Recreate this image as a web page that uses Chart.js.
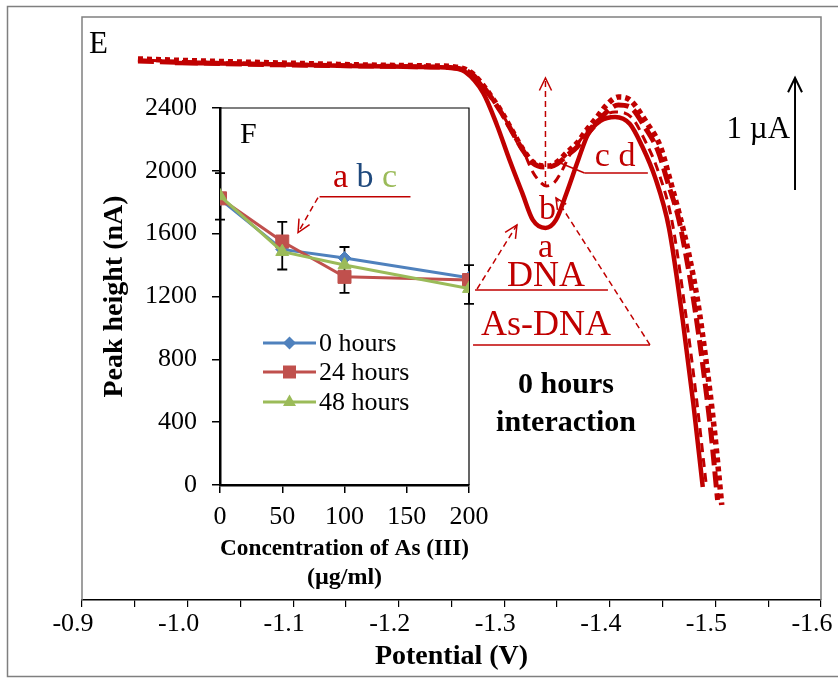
<!DOCTYPE html>
<html>
<head>
<meta charset="utf-8">
<script src="https://cdn.jsdelivr.net/npm/chart.js@4/dist/chart.umd.min.js"></script>
<style>
html, body { margin: 0; padding: 0; background: #fff; }
#wrap { position: relative; width: 838px; height: 679px; }
#main { position: absolute; left: 0; top: 0; }
#inset { position: absolute; left: 95px; top: 95px; }
</style>
</head>
<body>
<div id="wrap">
  <canvas id="main" width="838" height="679"></canvas>
  <canvas id="inset" width="400" height="510"></canvas>
</div>
<script>
// ---- E: voltammograms (potential V, current in uA, arbitrary offset) ----
// a: DNA (solid)
const potA = [-0.988, -1.069, -1.154, -1.220, -1.249, -1.263, -1.280, -1.293, -1.305, -1.317, -1.327, -1.339, -1.349,
  -1.359, -1.370, -1.379, -1.391, -1.405, -1.419, -1.430, -1.443, -1.456, -1.469, -1.479, -1.488];
const curA = [4.790, 4.781, 4.764, 4.755, 4.746, 4.710, 4.523, 4.237, 3.925, 3.631, 3.390, 3.318, 3.390,
  3.631, 3.925, 4.148, 4.273, 4.309, 4.246, 4.059, 3.765, 3.318, 2.498, 1.757, 1.008];
// b: As-DNA
const potB = [-0.953, -1.012, -1.088, -1.163, -1.230, -1.253, -1.268, -1.279, -1.288, -1.298, -1.307, -1.318, -1.327,
  -1.334, -1.340, -1.347, -1.354, -1.362, -1.372, -1.381, -1.391, -1.405, -1.421, -1.433, -1.446, -1.459, -1.472, -1.482, -1.491];
const curB = [4.817, 4.799, 4.781, 4.764, 4.755, 4.746, 4.701, 4.594, 4.478, 4.335, 4.184, 4.005, 3.818,
  3.729, 3.693, 3.720, 3.818, 3.970, 4.103, 4.211, 4.300, 4.353, 4.300, 4.103, 3.818, 3.372, 2.542, 1.802, 1.053];
// c: As-DNA
const potC = [-0.953, -1.012, -1.088, -1.163, -1.230, -1.253, -1.268, -1.279, -1.288, -1.298, -1.307, -1.318, -1.327,
  -1.337, -1.343, -1.350, -1.359, -1.369, -1.378, -1.388, -1.397, -1.408, -1.419, -1.433, -1.446, -1.455, -1.465,
  -1.472, -1.480, -1.488, -1.496, -1.502];
const curC = [4.808, 4.790, 4.773, 4.764, 4.755, 4.746, 4.701, 4.594, 4.478, 4.335, 4.184, 4.005, 3.898,
  3.863, 3.863, 3.889, 3.961, 4.041, 4.148, 4.255, 4.353, 4.416, 4.398, 4.219, 3.996, 3.720, 3.408,
  3.078, 2.632, 2.096, 1.472, 0.892];
// d: As-DNA
const potD = [-0.953, -1.012, -1.088, -1.163, -1.230, -1.253, -1.268, -1.279, -1.288, -1.298, -1.307, -1.318, -1.327,
  -1.337, -1.343, -1.350, -1.359, -1.369, -1.378, -1.388, -1.397, -1.408, -1.419, -1.435, -1.448, -1.457, -1.466,
  -1.474, -1.483, -1.491, -1.499, -1.506];
const curD = [4.826, 4.808, 4.790, 4.773, 4.764, 4.755, 4.710, 4.603, 4.487, 4.344, 4.193, 4.014, 3.907,
  3.872, 3.872, 3.907, 3.988, 4.077, 4.193, 4.309, 4.416, 4.487, 4.460, 4.255, 4.041, 3.747, 3.434,
  3.122, 2.676, 2.141, 1.517, 0.847];
const potTicks = [-0.9, -0.95, -1.0, -1.05, -1.1, -1.15, -1.2, -1.25, -1.3, -1.35, -1.4, -1.45, -1.5, -1.55, -1.6];
const potLabels = ['-0.9', '', '-1.0', '', '-1.1', '', '-1.2', '', '-1.3', '', '-1.4', '', '-1.5', '', '-1.6'];

// ---- F: peak height vs As(III) concentration ----
const conc = [0, 50, 100, 200];
const peak0h = [1820, 1500, 1445, 1320];
const peak24h = [1825, 1550, 1325, 1305];
const peak48h = [1840, 1485, 1400, 1250];
const errHigh = [1985, 1675, 1515, 1400];
const errLow = [1690, 1372, 1223, 1153];
const concTicks = [0, 50, 100, 150, 200];
const peakTicks = [0, 400, 800, 1200, 1600, 2000, 2400];
const seriesNames = ['0 hours', '24 hours', '48 hours'];

const RED = '#C00000';
const SERIF = "'Liberation Serif', 'Times New Roman', serif";

function arrowHead(c, x1, y1, x2, y2, len) {
  const a = Math.atan2(y2 - y1, x2 - x1);
  c.save();
  c.setLineDash([]);
  c.beginPath();
  c.moveTo(x2 - len * Math.cos(a - 0.45), y2 - len * Math.sin(a - 0.45));
  c.lineTo(x2, y2);
  c.lineTo(x2 - len * Math.cos(a + 0.45), y2 - len * Math.sin(a + 0.45));
  c.stroke();
  c.restore();
}

function seg(c, x1, y1, x2, y2, dash, head) {
  c.save();
  c.setLineDash(dash || []);
  c.beginPath();
  c.moveTo(x1, y1);
  c.lineTo(x2, y2);
  c.stroke();
  c.restore();
  if (head) arrowHead(c, x1, y1, x2, y2, head);
}

function text(c, s, x, y, font, color, align) {
  c.save();
  c.font = font;
  c.fillStyle = color;
  c.textAlign = align || 'center';
  c.textBaseline = 'alphabetic';
  c.fillText(s, x, y);
  c.restore();
}

function curve(pot, cur, opts) {
  return Object.assign({
    data: pot.map((p, i) => ({x: p, y: cur[i]})),
    borderColor: RED,
    pointRadius: 0,
    fill: false,
    cubicInterpolationMode: 'monotone'
  }, opts);
}

const mainNotes = {
  id: 'mainNotes',
  beforeDraw(chart) {
    const c = chart.ctx;
    c.save();
    c.fillStyle = '#fff';
    c.fillRect(0, 0, chart.width, chart.height);
    c.strokeStyle = '#7f7f7f';
    c.lineWidth = 1.5;
    c.strokeRect(7.5, 6.5, 900, 670);
    c.restore();
  },
  afterDraw(chart) {
    const {ctx: c, chartArea: a, scales: {x, y}} = chart;
    const X = v => x.getPixelForValue(v), Y = v => y.getPixelForValue(v);
    c.save();
    c.strokeStyle = '#808080';
    c.lineWidth = 1.5;
    c.beginPath();
    c.moveTo(a.left, a.bottom);
    c.lineTo(a.left, a.top);
    c.lineTo(a.right, a.top);
    c.lineTo(a.right, a.bottom);
    c.stroke();

    text(c, 'E', X(-0.9066), Y(4.880), '31px ' + SERIF, '#000', 'left');

    c.strokeStyle = RED;
    c.lineWidth = 1.5;
    text(c, 'a', X(-1.339), Y(3.060), '34px ' + SERIF, RED);
    text(c, 'b', X(-1.341), Y(3.399), '34px ' + SERIF, RED);
    text(c, 'c d', X(-1.405), Y(3.872), '34px ' + SERIF, RED);
    seg(c, X(-1.376), Y(3.809), X(-1.436), Y(3.809));
    seg(c, X(-1.353), Y(3.898), X(-1.376), Y(3.809));

    text(c, 'DNA', X(-1.3395), Y(2.801), '36px ' + SERIF, RED);
    seg(c, X(-1.2723), Y(2.765), X(-1.3982), Y(2.765));
    seg(c, X(-1.2742), Y(2.774), X(-1.312), Y(3.345), [6, 4], 14);

    text(c, 'As-DNA', X(-1.3395), Y(2.364), '36px ' + SERIF, RED);
    seg(c, X(-1.2704), Y(2.275), X(-1.438), Y(2.275));
    seg(c, X(-1.438), Y(2.275), X(-1.349), Y(3.586), [6, 4], 12);
    seg(c, X(-1.339), Y(3.684), X(-1.339), Y(4.657), [6, 4], 14);

    c.strokeStyle = '#000';
    c.lineWidth = 2;
    seg(c, X(-1.5754), Y(3.657), X(-1.5754), Y(4.657), null, 16);
    text(c, '1 \u00b5A', X(-1.5707), Y(4.121), '31px ' + SERIF, '#000', 'right');

    text(c, '0 hours', X(-1.3585), Y(1.847), 'bold 30px ' + SERIF, '#000');
    text(c, 'interaction', X(-1.3585), Y(1.508), 'bold 30px ' + SERIF, '#000');
    c.restore();
  }
};

new Chart(document.getElementById('main'), {
  type: 'line',
  data: {
    datasets: [
      curve(potD, curD, {borderWidth: 5.5, borderDash: [5, 4], order: 4}),
      curve(potC, curC, {borderWidth: 5, borderDash: [16, 6], order: 3}),
      curve(potB, curB, {borderWidth: 3, borderDash: [9, 6], order: 2}),
      curve(potA, curA, {borderWidth: 4.5, order: 1})
    ]
  },
  options: {
    responsive: false,
    animation: false,
    layout: {padding: {left: 82, top: 17, right: 17, bottom: 0}},
    plugins: {legend: {display: false}, tooltip: {enabled: false}},
    scales: {
      x: {
        type: 'linear',
        reverse: true,
        min: -1.6,
        max: -0.9,
        afterBuildTicks: s => { s.ticks = potTicks.map(v => ({value: v})); },
        afterFit: s => { s.height = 79; s.paddingLeft = 0; s.paddingRight = 0; },
        ticks: {
          autoSkip: false,
          maxRotation: 0,
          padding: 2,
          labelOffset: -9,
          color: '#000',
          font: {family: SERIF, size: 26},
          callback: (v, i) => potLabels[i]
        },
        grid: {drawOnChartArea: false, tickLength: 7, color: '#000', lineWidth: 1.2},
        border: {color: '#000', width: 1.5},
        title: {
          display: true,
          text: 'Potential (V)',
          color: '#000',
          font: {family: SERIF, size: 28, weight: 'bold'},
          padding: {top: 0, bottom: 5}
        }
      },
      y: {display: false, min: 0, max: 5.2}
    }
  },
  plugins: [mainNotes]
});

// ---- inset F ----
const insetNotes = {
  id: 'insetNotes',
  beforeDatasetsDraw(chart) {
    const {ctx: c, chartArea: a, scales: {x, y}} = chart;
    c.save();
    c.strokeStyle = '#000';
    c.lineWidth = 1.2;
    c.beginPath();
    c.moveTo(a.left, a.top);
    c.lineTo(a.right, a.top);
    c.lineTo(a.right, a.bottom);
    c.stroke();
    c.lineWidth = 1.8;
    conc.forEach((v, i) => {
      const px = x.getPixelForValue(v);
      const t = y.getPixelForValue(errHigh[i]), b = y.getPixelForValue(errLow[i]);
      c.beginPath();
      c.moveTo(px, t); c.lineTo(px, b);
      c.moveTo(px - 5, t); c.lineTo(px + 5, t);
      c.moveTo(px - 5, b); c.lineTo(px + 5, b);
      c.stroke();
    });
    c.restore();
  },
  afterDraw(chart) {
    const {ctx: c, chartArea: a, scales: {x, y}} = chart;
    const X = v => x.getPixelForValue(v), Y = v => y.getPixelForValue(v);
    text(c, 'F', X(16), Y(2177), '30px ' + SERIF, '#000', 'left');

    // "a b c" label with coloured letters
    c.save();
    c.font = '34px ' + SERIF;
    const parts = [['a ', RED], ['b ', '#1F497D'], ['c', '#9BBB59']];
    const total = parts.reduce((s, p) => s + c.measureText(p[0]).width, 0);
    let px = X(116.5) - total / 2;
    parts.forEach(p => {
      text(c, p[0], px, Y(1900), '34px ' + SERIF, p[1], 'left');
      px += c.measureText(p[0]).width;
    });
    c.strokeStyle = RED;
    c.lineWidth = 1.5;
    seg(c, X(80), Y(1835), X(153), Y(1835));
    seg(c, X(78.7), Y(1830), X(62.7), Y(1607), [6, 4], 14);
    c.restore();

    // legend
    const cols = chart.data.datasets.map(d => d.borderColor);
    const rows = [235, 264, 294];
    c.save();
    rows.forEach((dy, i) => {
      const ly = a.top + dy;
      const x0 = a.left + 43, x1 = a.left + 96, xm = (x0 + x1) / 2;
      c.strokeStyle = cols[i];
      c.fillStyle = cols[i];
      c.lineWidth = 3;
      c.beginPath(); c.moveTo(x0, ly); c.lineTo(x1, ly); c.stroke();
      c.beginPath();
      if (i === 0) {
        c.moveTo(xm, ly - 6.5); c.lineTo(xm + 6.5, ly); c.lineTo(xm, ly + 6.5); c.lineTo(xm - 6.5, ly);
      } else if (i === 1) {
        c.rect(xm - 6.5, ly - 6.5, 13, 13);
      } else {
        c.moveTo(xm, ly - 7.5); c.lineTo(xm + 6.5, ly + 4); c.lineTo(xm - 6.5, ly + 4);
      }
      c.closePath();
      c.fill();
      c.font = '26px ' + SERIF;
      c.fillStyle = '#000';
      c.textAlign = 'left';
      c.textBaseline = 'middle';
      c.fillText(seriesNames[i], a.left + 99, ly + 1);
    });
    c.restore();
  }
};

function series(vals, color, style, r, order) {
  return {
    label: '',
    data: conc.map((v, i) => ({x: v, y: vals[i]})),
    borderColor: color,
    backgroundColor: color,
    borderWidth: 3,
    pointStyle: style,
    pointRadius: r,
    pointBorderWidth: 1,
    pointBorderColor: color,
    tension: 0,
    order: order
  };
}

new Chart(document.getElementById('inset'), {
  type: 'line',
  data: {
    datasets: [
      series(peak0h, '#4F81BD', 'rectRot', 6.5, 3),
      series(peak24h, '#C0504D', 'rect', 9.2, 2),
      series(peak48h, '#9BBB59', 'triangle', 7.5, 1)
    ]
  },
  options: {
    responsive: false,
    animation: false,
    layout: {padding: {left: 0, top: 13, right: 26, bottom: 0}},
    plugins: {legend: {display: false}, tooltip: {enabled: false}},
    scales: {
      x: {
        type: 'linear',
        min: 0,
        max: 200,
        afterBuildTicks: s => { s.ticks = concTicks.map(v => ({value: v})); },
        afterFit: s => { s.height = 120; s.paddingLeft = 0; s.paddingRight = 0; },
        ticks: {maxRotation: 0, autoSkip: false, padding: 9, color: '#000', font: {family: SERIF, size: 26},
          callback: v => String(v)},
        grid: {drawOnChartArea: false, tickLength: 8, color: '#000', lineWidth: 1.5},
        border: {color: '#000', width: 2.5},
        title: {
          display: true,
          text: ['Concentration of As (III)', '(\u00b5g/ml)'],
          color: '#000',
          font: {family: SERIF, size: 24, weight: 'bold', lineHeight: 1.2},
          padding: {top: 0, bottom: 13}
        }
      },
      y: {
        min: 0,
        max: 2400,
        afterBuildTicks: s => { s.ticks = peakTicks.map(v => ({value: v})); },
        afterFit: s => { s.width = 125; s.paddingTop = 0; s.paddingBottom = 0; },
        ticks: {padding: 15, color: '#000', font: {family: SERIF, size: 26}, callback: v => String(v)},
        grid: {drawOnChartArea: false, tickLength: 8, color: '#000', lineWidth: 1.5},
        border: {color: '#000', width: 2.5},
        title: {
          display: true,
          text: 'Peak height (nA)',
          color: '#000',
          font: {family: SERIF, size: 28, weight: 'bold', lineHeight: 1.2},
          padding: {top: 3, bottom: 0}
        }
      }
    }
  },
  plugins: [insetNotes]
});
</script>
</body>
</html>
